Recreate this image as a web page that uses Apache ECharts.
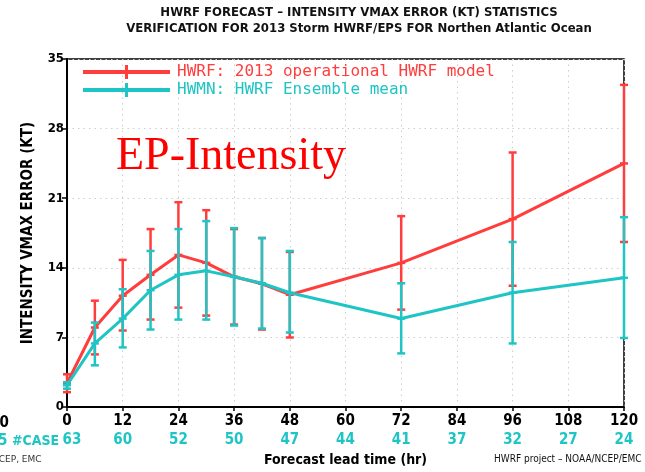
<!DOCTYPE html>
<html>
<head>
<meta charset="utf-8">
<script src="https://cdn.jsdelivr.net/npm/echarts@6/dist/echarts.min.js"></script>
<style>
  html, body { margin: 0; padding: 0; background: #fff; }
  #grafica { width: 645px; height: 472px; }
</style>
</head>
<body>
<div id="grafica"></div>
<script>
// lead times (hr) and mean errors with error bar limits (KT)
const horas = [0, 6, 12, 18, 24, 30, 36, 42, 48, 72, 96, 120];
const hwrfMedia = [2.4, 8.0, 11.2, 13.3, 15.3, 14.5, 13.1, 12.4, 11.3, 14.5, 18.9, 24.5];
const hwrfBajo = [1.5, 5.3, 7.7, 8.8, 10.0, 9.2, 8.3, 7.8, 7.0, 9.8, 12.2, 16.6];
const hwrfAlto = [3.3, 10.7, 14.8, 17.9, 20.6, 19.8, 17.9, 17.0, 15.6, 19.2, 25.6, 32.4];
const hwmnMedia = [2.2, 6.4, 8.9, 11.75, 13.3, 13.7, 13.1, 12.45, 11.5, 8.9, 11.5, 13.0];
const hwmnBajo = [1.85, 4.2, 6.0, 7.8, 8.8, 8.8, 8.2, 7.9, 7.5, 5.4, 6.4, 6.95];
const hwmnAlto = [2.5, 8.5, 11.85, 15.7, 17.9, 18.7, 18.0, 17.0, 15.7, 12.45, 16.6, 19.1];

const horasCasos = [0, 12, 24, 36, 48, 60, 72, 84, 96, 108, 120];
const casos = [63, 60, 52, 50, 47, 44, 41, 37, 32, 27, 24];

const rojo = '#ff3d3d';
const turquesa = '#1fc4c4';
const fuente = "'Liberation Sans Narrow','DejaVu Sans Condensed','Roboto',sans-serif";

function barras(bajo, alto, media) {
  return horas.map(function (h, i) { return [h, bajo[i], alto[i], media[i]]; });
}

function dibujarbarra(color) {
  return function (params, api) {
    const a = api.coord([api.value(0), api.value(2)]);
    const b = api.coord([api.value(0), api.value(1)]);
    const m = api.coord([api.value(0), api.value(3)]);
    const w = 4;
    const estilo = { stroke: color, lineWidth: 2.5, fill: null };
    return {
      type: 'group',
      children: [
        { type: 'line', shape: { x1: a[0], y1: a[1], x2: b[0], y2: b[1] }, style: estilo },
        { type: 'line', shape: { x1: a[0] - w, y1: a[1], x2: a[0] + w, y2: a[1] }, style: estilo },
        { type: 'line', shape: { x1: b[0] - w, y1: b[1], x2: b[0] + w, y2: b[1] }, style: estilo },
        { type: 'line', shape: { x1: m[0] - w, y1: m[1], x2: m[0] + w, y2: m[1] }, style: estilo }
      ]
    };
  };
}

const iconoleyenda = 'path://M0,5H87V9H0Z M42,0H45V14H42Z';

myChart = echarts.init(document.getElementById('grafica'), null, { renderer: 'canvas' });
option = {
  animation: false,
  backgroundColor: '#fff',
  title: [
    {
      text: 'HWRF FORECAST – INTENSITY VMAX ERROR (KT) STATISTICS\nVERIFICATION FOR 2013 Storm HWRF/EPS FOR Northen Atlantic Ocean',
      left: 354, top: 0, textAlign: 'center',
      textStyle: { fontFamily: fuente, fontWeight: 'bold', fontSize: 13, lineHeight: 16, color: '#111' }
    },
    {
      text: 'EP-Intensity',
      left: 111, top: 129,
      textStyle: { fontFamily: "'Liberation Serif','DejaVu Serif',serif", fontWeight: 'normal', fontSize: 46, color: '#ff0000' }
    }
  ],
  legend: {
    orient: 'vertical',
    left: 78, top: 58,
    itemWidth: 87, itemHeight: 14, itemGap: 0,
    selectedMode: false,
    data: [
      { name: 'HWRF: 2013 operational HWRF model', icon: iconoleyenda, itemStyle: { color: rojo }, textStyle: { color: rojo } },
      { name: 'HWMN: HWRF Ensemble mean', icon: iconoleyenda, itemStyle: { color: turquesa }, textStyle: { color: turquesa } }
    ],
    textStyle: { fontFamily: "'DejaVu Sans Mono',monospace", fontSize: 16, lineHeight: 18, padding: [0, 0, 0, 2] }
  },
  grid: {
    left: 67, right: 21, top: 59, bottom: 60,
    show: true, borderColor: '#000', borderWidth: 1.5, backgroundColor: 'transparent'
  },
  xAxis: [
    {
      type: 'value', min: 0, max: 120, interval: 12,
      axisLine: { lineStyle: { color: '#000', width: 2 } },
      axisTick: { show: true, length: 4, lineStyle: { color: '#000', width: 1.5 } },
      axisLabel: { color: '#000', fontFamily: fuente, fontWeight: 'bold', fontSize: 15, margin: 7 },
      splitLine: { show: true, lineStyle: { color: '#cfcfcf', type: [1.5, 4], width: 1 } }
    },
    {
      type: 'value', min: 0, max: 120, interval: 12,
      position: 'bottom', offset: 23,
      axisLine: { show: false }, axisTick: { show: false }, splitLine: { show: false },
      axisLabel: {
        color: turquesa, fontFamily: fuente, fontWeight: 'bold', fontSize: 15, margin: 3,
        formatter: function (v) {
          const i = horasCasos.indexOf(v);
          if (i < 0) return '';
          return i === 0 ? '{p|' + casos[i] + '}' : String(casos[i]);
        },
        rich: { p: { padding: [0, 0, 0, 10], color: turquesa, fontFamily: fuente, fontWeight: 'bold', fontSize: 15 } }
      },
      name: 'Forecast lead time (hr)', nameLocation: 'middle', nameGap: 21,
      nameTextStyle: { color: '#000', fontFamily: fuente, fontWeight: 'bold', fontSize: 14 }
    }
  ],
  yAxis: {
    type: 'value', min: 0, max: 35, interval: 7,
    name: 'INTENSITY VMAX ERROR (KT)', nameLocation: 'middle', nameGap: 31,
    nameTextStyle: { color: '#000', fontFamily: fuente, fontWeight: 'bold', fontSize: 15 },
    axisLine: { show: true, lineStyle: { color: '#000', width: 2 } },
    axisTick: { show: true, length: 5, lineStyle: { color: '#000', width: 1.5 } },
    axisLabel: { color: '#000', fontFamily: fuente, fontWeight: 'bold', fontSize: 13, margin: 3 },
    splitLine: { show: true, lineStyle: { color: '#cfcfcf', type: [1.5, 4], width: 1 } }
  },
  graphic: [
    { type: 'text', left: 12, top: 434, style: { text: '#CASE', fill: turquesa, font: "bold 14px 'Liberation Sans Narrow','DejaVu Sans Condensed',sans-serif" } },
    { type: 'text', left: -2, top: 434, style: { text: '5', fill: turquesa, font: "bold 15px 'Liberation Sans Narrow','DejaVu Sans Condensed',sans-serif" } },
    { type: 'text', left: -10, top: 416, style: { text: '20', fill: '#000', font: "bold 15px 'Liberation Sans Narrow','DejaVu Sans Condensed',sans-serif" } },
    { type: 'text', left: -8, top: 455, style: { text: 'NCEP, EMC', fill: '#333', font: "9px 'DejaVu Sans',sans-serif" } },
    { type: 'text', left: 494, top: 454, style: { text: 'HWRF project – NOAA/NCEP/EMC', fill: '#111', font: "10px 'DejaVu Sans Condensed','DejaVu Sans',sans-serif" } }
  ],
  series: [
    {
      name: 'HWRF: 2013 operational HWRF model', type: 'line', xAxisIndex: 0,
      data: horas.map(function (h, i) { return [h, hwrfMedia[i]]; }),
      symbol: 'none', color: rojo, lineStyle: { color: rojo, width: 3 }, z: 2
    },
    {
      type: 'custom', xAxisIndex: 0, data: barras(hwrfBajo, hwrfAlto, hwrfMedia),
      renderItem: dibujarbarra(rojo), encode: { x: 0, y: [1, 2] }, z: 3, silent: true
    },
    {
      name: 'HWMN: HWRF Ensemble mean', type: 'line', xAxisIndex: 0,
      data: horas.map(function (h, i) { return [h, hwmnMedia[i]]; }),
      symbol: 'none', color: turquesa, lineStyle: { color: turquesa, width: 3 }, z: 4
    },
    {
      type: 'custom', xAxisIndex: 0, data: barras(hwmnBajo, hwmnAlto, hwmnMedia),
      renderItem: dibujarbarra(turquesa), encode: { x: 0, y: [1, 2] }, z: 5, silent: true
    }
  ]
};
myChart.setOption(option);
</script>
</body>
</html>
